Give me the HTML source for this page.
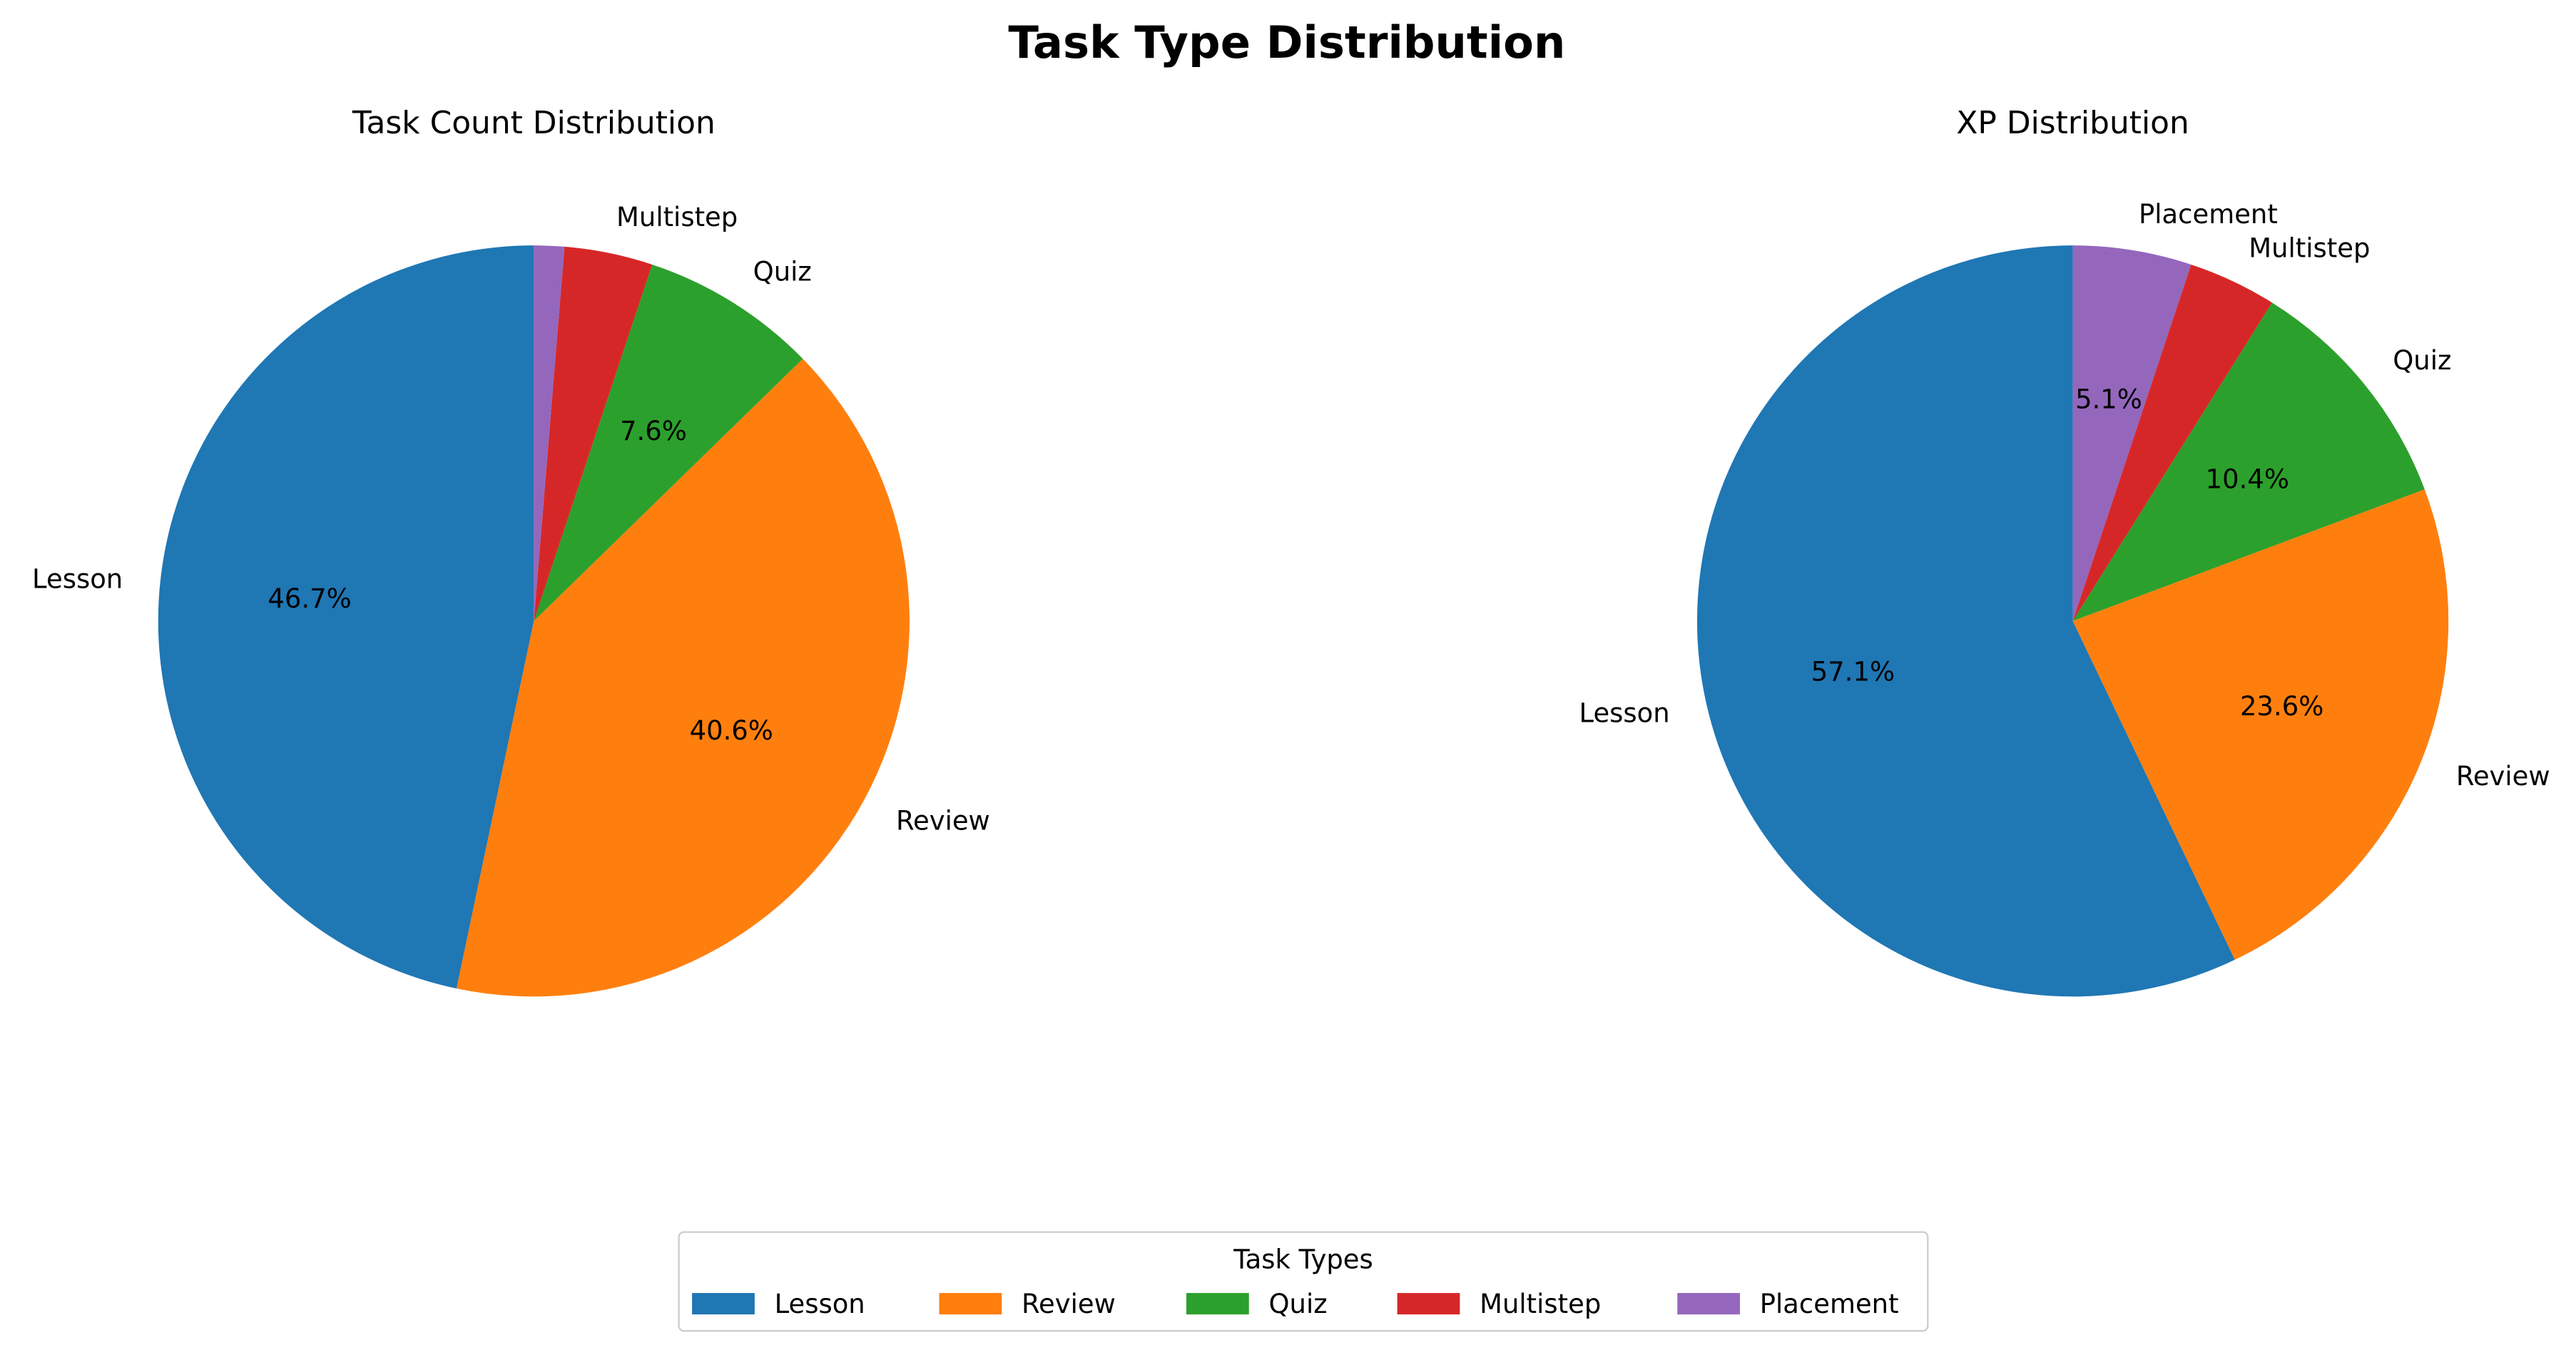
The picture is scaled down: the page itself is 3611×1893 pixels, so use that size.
<!DOCTYPE html>
<html><head><meta charset="utf-8"><style>
html,body{margin:0;padding:0;background:#fff}
svg{display:block;font-family:"DejaVu Sans","Liberation Sans",sans-serif}
</style></head><body>
<svg id="chart" width="3611" height="1893" viewBox="0 0 1563.4 819.6">
<text x="781" y="35" text-anchor="middle" font-size="27" font-weight="bold">Task Type Distribution</text>
<text x="324" y="81" text-anchor="middle" font-size="19">Task Count Distribution</text>
<text x="1258" y="81" text-anchor="middle" font-size="19">XP Distribution</text>
<g id="pies"></g>
<g>
<rect x="412" y="748" width="758" height="60" fill="#fff" stroke="#ccc" rx="3"/>
<text x="791" y="770" text-anchor="middle" font-size="16">Task Types</text>
<g id="legend-items"></g>
</g>
</svg>
<script>
const categories = ["Lesson","Review","Quiz","Multistep","Placement"];
const colors = ["#1f77b4","#ff7f0e","#2ca02c","#d62728","#9467bd"];
const countValues = [46.7,40.6,7.6,3.8,1.3];
const xpValues = [57.1,23.6,10.4,3.8,5.1];
const NS="http://www.w3.org/2000/svg";
const pies=document.getElementById('pies');
function mk(tag,attrs,parent){const e=document.createElementNS(NS,tag);for(const k in attrs)e.setAttribute(k,attrs[k]);parent.appendChild(e);return e;}
function drawPie(cx,cy,r,vals,prefix){
  const total=vals.reduce((a,b)=>a+b,0);
  let a=90;
  vals.forEach((v,i)=>{
    const sweep=v/total*360, a2=a+sweep;
    const rad=d=>d*Math.PI/180;
    const x1=cx+r*Math.cos(rad(a)),y1=cy-r*Math.sin(rad(a));
    const x2=cx+r*Math.cos(rad(a2)),y2=cy-r*Math.sin(rad(a2));
    const p=mk('path',{d:`M${cx},${cy} L${x1},${y1} A${r},${r} 0 ${sweep>180?1:0} 0 ${x2},${y2} Z`,fill:colors[i]},pies);
    
    
    const m=rad(a+sweep/2), c=Math.cos(m), s=Math.sin(m);
    const pct=v/total*100;
    if(pct>=2){
      const lt=mk('text',{x:cx+1.1*r*c,y:cy-1.1*r*s+6,'font-size':16,'text-anchor':c>=0?'start':'end'},pies);
      lt.textContent=categories[i];
      
      
    }
    if(pct>5){
      const pt=mk('text',{x:cx+0.6*r*c,y:cy-0.6*r*s+6,'font-size':16,'text-anchor':'middle'},pies);
      pt.textContent=pct.toFixed(1)+'%';
      
      
    }
    a=a2;
  });
}
drawPie(324,377,228,countValues,'count');
drawPie(1258,377,228,xpValues,'xp');
const lg=document.getElementById('legend-items');
const lx=[420,570,720,848,1018];
categories.forEach((c,i)=>{
  const g=mk('g',{},lg);
  
  
  mk('rect',{x:lx[i],y:785,width:38,height:13,fill:colors[i]},g);
  const t=mk('text',{x:lx[i]+50,y:797,'font-size':16},g);
  t.textContent=c;
});
</script>
</body></html>
